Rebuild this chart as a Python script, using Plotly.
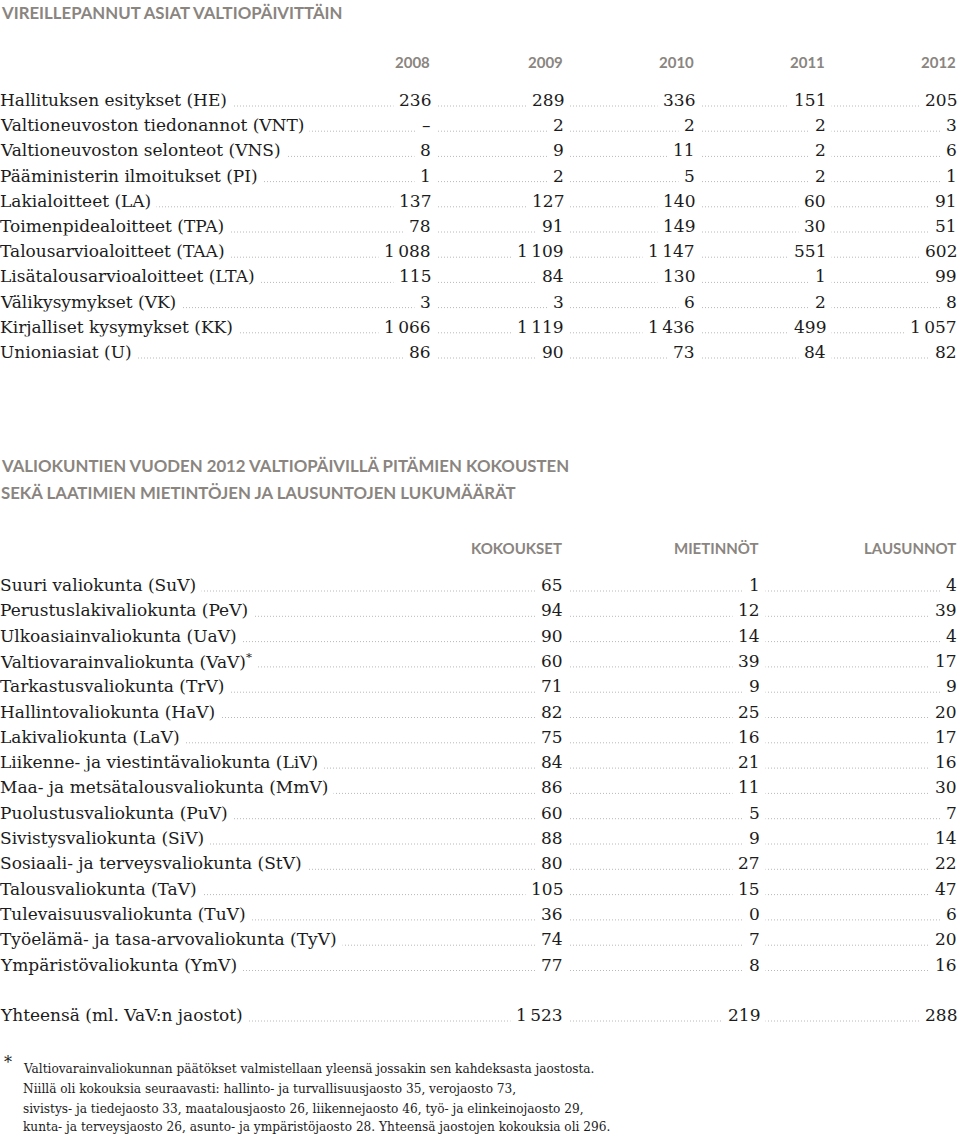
import plotly.graph_objects as go

# ---------- Data ----------
title1 = "VIREILLEPANNUT ASIAT VALTIOPÄIVITTÄIN"
years = ["2008", "2009", "2010", "2011", "2012"]
categories1 = [
    "Hallituksen esitykset (HE)",
    "Valtioneuvoston tiedonannot (VNT)",
    "Valtioneuvoston selonteot (VNS)",
    "Pääministerin ilmoitukset (PI)",
    "Lakialoitteet (LA)",
    "Toimenpidealoitteet (TPA)",
    "Talousarvioaloitteet (TAA)",
    "Lisätalousarvioaloitteet (LTA)",
    "Välikysymykset (VK)",
    "Kirjalliset kysymykset (KK)",
    "Unioniasiat (U)",
]
v2008 = [236, None, 8, 1, 137, 78, 1088, 115, 3, 1066, 86]
v2009 = [289, 2, 9, 2, 127, 91, 1109, 84, 3, 1119, 90]
v2010 = [336, 2, 11, 5, 140, 149, 1147, 130, 6, 1436, 73]
v2011 = [151, 2, 2, 2, 60, 30, 551, 1, 2, 499, 84]
v2012 = [205, 3, 6, 1, 91, 51, 602, 99, 8, 1057, 82]

title2a = "VALIOKUNTIEN VUODEN 2012 VALTIOPÄIVILLÄ PITÄMIEN KOKOUSTEN"
title2b = "SEKÄ LAATIMIEN MIETINTÖJEN JA LAUSUNTOJEN LUKUMÄÄRÄT"
columns2 = ["KOKOUKSET", "MIETINNÖT", "LAUSUNNOT"]
committees = [
    "Suuri valiokunta (SuV)",
    "Perustuslakivaliokunta (PeV)",
    "Ulkoasiainvaliokunta (UaV)",
    "Valtiovarainvaliokunta (VaV)<sup>*</sup>",
    "Tarkastusvaliokunta (TrV)",
    "Hallintovaliokunta (HaV)",
    "Lakivaliokunta (LaV)",
    "Liikenne- ja viestintävaliokunta (LiV)",
    "Maa- ja metsätalousvaliokunta (MmV)",
    "Puolustusvaliokunta (PuV)",
    "Sivistysvaliokunta (SiV)",
    "Sosiaali- ja terveysvaliokunta (StV)",
    "Talousvaliokunta (TaV)",
    "Tulevaisuusvaliokunta (TuV)",
    "Työelämä- ja tasa-arvovaliokunta (TyV)",
    "Ympäristövaliokunta (YmV)",
]
kokoukset = [65, 94, 90, 60, 71, 82, 75, 84, 86, 60, 88, 80, 105, 36, 74, 77]
mietinnot = [1, 12, 14, 39, 9, 25, 16, 21, 11, 5, 9, 27, 15, 0, 7, 8]
lausunnot = [4, 39, 4, 17, 9, 20, 17, 16, 30, 7, 14, 22, 47, 6, 20, 16]
total_label = "Yhteensä (ml. VaV:n jaostot)"
totals = [1523, 219, 288]

footnote_lines = [
    "Valtiovarainvaliokunnan päätökset valmistellaan yleensä jossakin sen kahdeksasta jaostosta.",
    "Niillä oli kokouksia seuraavasti: hallinto- ja turvallisuusjaosto 35, verojaosto 73,",
    "sivistys- ja tiedejaosto 33, maatalousjaosto 26, liikennejaosto 46, työ- ja elinkeinojaosto 29,",
    "kunta- ja terveysjaosto 26, asunto- ja ympäristöjaosto 28. Yhteensä jaostojen kokouksia oli 296.",
]

# ---------- Style ----------
W, H = 960, 1134
HEAD_COLOR = "#8a857f"
TEXT_COLOR = "#1c1c1c"
DOT_COLOR = "#b8b8b8"
SANS = "Lato"
SERIF = "DejaVu Serif"
FOOT_FONT = "DejaVu Serif Condensed, Liberation Serif, serif"
BODY_SIZE = 17
HEAD_SIZE = 15
TITLE_SIZE = 16.8
PAD = 5


def fmt(v):
    if v is None:
        return "–"
    return f"{v:,}".replace(",", "\u2009")


fig = go.Figure()
annotations = []
shapes = []


def add_text(x, y, text, anchor="left", size=BODY_SIZE, family=SERIF, color=TEXT_COLOR,
             weight="normal", bg=None, pad=0):
    # shift so that the glyphs (not the padded box) start/end at x
    dx = (pad + 1) * (-1 if anchor == "left" else 1) if bg else 0
    annotations.append(dict(
        x=(x + dx) / W, y=1 - y / H, xref="paper", yref="paper", text=text, showarrow=False,
        xanchor=anchor, yanchor="middle",
        font=dict(family=family, size=size, color=color, weight=weight),
        bgcolor=bg if bg else "rgba(0,0,0,0)", borderpad=pad,
    ))


def add_row(y, label, values, xs):
    shapes.append(dict(
        type="line", xref="x", yref="y", x0=0, x1=xs[-1], y0=y + 6, y1=y + 6,
        line=dict(color=DOT_COLOR, width=1, dash="1px,2px"), layer="below",
    ))
    add_text(0, y, label, anchor="left", bg="white", pad=PAD)
    for x, v in zip(xs, values):
        add_text(x, y, fmt(v), anchor="right", bg="white", pad=PAD)


# Table 1
add_text(0, 13, title1, size=TITLE_SIZE, family=SANS, color=HEAD_COLOR, weight="bold")
year_x = [431, 564, 695, 826, 957]
for x, yr in zip(year_x, years):
    add_text(x, 62, yr, anchor="right", size=HEAD_SIZE, family=SANS, color=HEAD_COLOR, weight="bold")
row_y1 = [100 + i * 25.2 for i in range(len(categories1))]
for i, cat in enumerate(categories1):
    vals = [v2008[i], v2009[i], v2010[i], v2011[i], v2012[i]]
    add_row(row_y1[i], cat, vals, year_x)

# Table 2
add_text(0, 466, title2a, size=TITLE_SIZE, family=SANS, color=HEAD_COLOR, weight="bold")
add_text(0, 492, title2b, size=TITLE_SIZE, family=SANS, color=HEAD_COLOR, weight="bold")
col_x = [563, 760, 957]
for x, c in zip(col_x, columns2):
    add_text(x, 548, c, anchor="right", size=HEAD_SIZE, family=SANS, color=HEAD_COLOR, weight="bold")
row_y2 = [585 + i * 25.3 for i in range(len(committees))]
for i, c in enumerate(committees):
    add_row(row_y2[i], c, [kokoukset[i], mietinnot[i], lausunnot[i]], col_x)
add_row(1015, total_label, totals, col_x)

# Footnote
add_text(3, 1062, "*", size=16, family=SERIF)
foot_y = [1068, 1088, 1108, 1126]
for y, line in zip(foot_y, footnote_lines):
    add_text(22, y, line, size=13.5, family=FOOT_FONT)

fig.update_layout(
    width=W, height=H,
    margin=dict(l=0, r=0, t=0, b=0),
    paper_bgcolor="white", plot_bgcolor="white",
    xaxis=dict(range=[0, W], visible=False, fixedrange=True),
    yaxis=dict(range=[H, 0], visible=False, fixedrange=True),
    annotations=annotations, shapes=shapes, showlegend=False,
)
fig.write_html(
    "out.html",
    config={"displayModeBar": False},
    post_script="document.body.style.margin='0';document.body.style.overflow='hidden';",
)
